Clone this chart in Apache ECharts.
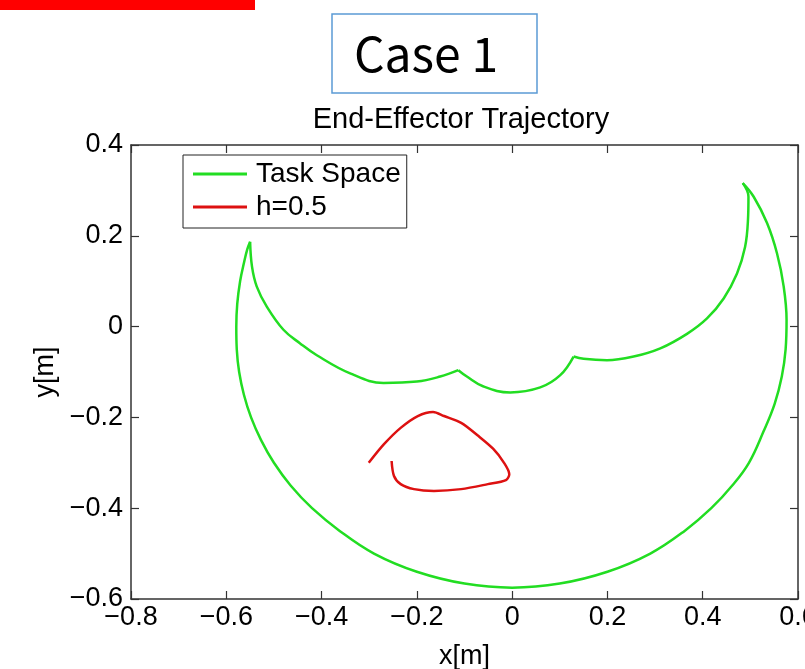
<!DOCTYPE html>
<html>
<head>
<meta charset="utf-8">
<script src="https://cdn.jsdelivr.net/npm/echarts@6/dist/echarts.min.js"></script>
<style>
  html, body { margin: 0; padding: 0; background: #fff; }
  #chart { width: 805px; height: 669px; }
</style>
</head>
<body>
<div id="chart"></div>
<script>
// 轴刻度 [min, max, interval]
var xTicks = [-0.8, 0.6, 0.2];
var yTicks = [-0.6, 0.4, 0.2];

// Task Space 边界, 分四段 (尖点处不平滑)
// 左尖点 -> 左小尖点
var arcAX = [-0.550, -0.546, -0.536, -0.515, -0.480, -0.445, -0.410, -0.340, -0.270, -0.200, -0.151, -0.113];
var arcAY = [0.187, 0.132, 0.088, 0.044, -0.007, -0.037, -0.063, -0.103, -0.124, -0.121, -0.110, -0.096];
// 左小尖点 -> 右小尖点
var arcBX = [-0.113, -0.095, -0.060, -0.004, 0.059, 0.101, 0.129];
var arcBY = [-0.096, -0.110, -0.132, -0.145, -0.134, -0.107, -0.066];
// 右小尖点 -> 右上尖点
var arcCX = [0.129, 0.150, 0.199, 0.255, 0.311, 0.367, 0.409, 0.444, 0.472, 0.489, 0.495, 0.496, 0.484];
var arcCY = [-0.066, -0.071, -0.074, -0.066, -0.048, -0.016, 0.018, 0.062, 0.117, 0.176, 0.235, 0.286, 0.316];
// 外弧: 右上尖点 -> 左尖点
var arcDX = [0.484, 0.507, 0.535, 0.556, 0.570, 0.576, 0.574, 0.566, 0.551, 0.528, 0.497, 0.462, 0.418, 0.362,
  0.290, 0.200, 0.100, 0.000, -0.100, -0.200, -0.290, -0.362, -0.420, -0.465, -0.500, -0.527, -0.548,
  -0.563, -0.573, -0.578, -0.579, -0.577, -0.571, -0.563, -0.556, -0.550];
var arcDY = [0.316, 0.286, 0.228, 0.161, 0.088, 0.015, -0.050, -0.110, -0.170, -0.230, -0.300, -0.350, -0.400, -0.450,
  -0.500, -0.540, -0.566, -0.575, -0.566, -0.540, -0.500, -0.450, -0.400, -0.350, -0.300, -0.250, -0.200,
  -0.150, -0.100, -0.050, 0.000, 0.050, 0.100, 0.140, 0.170, 0.187];

// h=0.5 轨迹
var hX = [-0.301, -0.269, -0.234, -0.198, -0.166, -0.143, -0.107, -0.072, -0.040, -0.017, -0.006,
  -0.013, -0.051, -0.107, -0.164, -0.206, -0.234, -0.248, -0.253];
var hY = [-0.300, -0.259, -0.223, -0.197, -0.188, -0.197, -0.212, -0.240, -0.269, -0.300, -0.325,
  -0.338, -0.347, -0.358, -0.362, -0.358, -0.347, -0.329, -0.296];

function pairs(xs, ys) {
  return xs.map(function (v, i) { return [v, ys[i]]; });
}

(function () {
  const myChart = echarts.init(document.getElementById("chart"));
  const font = "Liberation Sans";
  const green = "#22dd22";
  const red = "#dd1111";
  const fmt = function (v) { return String(+v.toFixed(1)).replace("-", "\u2212"); };
  const axisBase = {
    type: "value",
    axisLine: { show: true, onZero: false, lineStyle: { color: "#333", width: 1.5 } },
    axisTick: { show: true, inside: true, length: 8, lineStyle: { color: "#333", width: 1.2 } },
    splitLine: { show: false }
  };
  const greenArc = function (xs, ys) {
    return {
      name: "Task Space",
      type: "line",
      data: pairs(xs, ys),
      showSymbol: false,
      smooth: 0.4,
      color: green,
      lineStyle: { width: 2.5, color: green }
    };
  };
  const option = {
    backgroundColor: "#fff",
    animation: false,
    graphic: [
      { type: "rect", shape: { x: 0, y: 0, width: 255, height: 10 }, style: { fill: "#ff0000" } },
      { type: "rect", shape: { x: 332, y: 14, width: 205, height: 79 },
        style: { fill: "#fff", stroke: "#5b9bd5", lineWidth: 1.5 } },
      { type: "text", x: 426, y: 54,
        style: { text: "Case 1", fontFamily: "Noto Sans CJK JP", fontSize: 48, fill: "#000",
          textAlign: "center", textVerticalAlign: "middle" } },
      { type: "text", x: 461, y: 120,
        style: { text: "End-Effector Trajectory", fontFamily: font, fontSize: 29, fill: "#000",
          textAlign: "center", textVerticalAlign: "middle" } }
    ],
    legend: {
      orient: "vertical",
      left: 183,
      top: 155,
      backgroundColor: "#fff",
      borderColor: "#222",
      borderWidth: 1,
      padding: [5, 6, 7, 10],
      itemWidth: 54,
      itemHeight: 3,
      itemGap: 5,
      textStyle: { fontFamily: font, fontSize: 28, color: "#000", padding: [0, 0, 0, 4] },
      data: [
        { name: "Task Space", icon: "rect" },
        { name: "h=0.5", icon: "rect" }
      ]
    },
    grid: { left: 131, top: 145, width: 667, height: 454, outerBoundsMode: "none", containLabel: false },
    xAxis: [
      Object.assign({}, axisBase, {
        min: xTicks[0], max: xTicks[1], interval: xTicks[2],
        position: "bottom",
        name: "x[m]", nameLocation: "middle", nameGap: 44,
        nameTextStyle: { fontFamily: font, fontSize: 27, color: "#000" },
        axisLabel: { margin: 5, fontFamily: font, fontSize: 27, color: "#000", formatter: fmt }
      }),
      Object.assign({}, axisBase, {
        min: xTicks[0], max: xTicks[1], interval: xTicks[2],
        position: "top", axisLabel: { show: false }
      })
    ],
    yAxis: [
      Object.assign({}, axisBase, {
        min: yTicks[0], max: yTicks[1], interval: yTicks[2],
        position: "left",
        name: "y[m]", nameLocation: "middle", nameGap: 66,
        nameTextStyle: { fontFamily: font, fontSize: 27, color: "#000" },
        axisLabel: { margin: 8, fontFamily: font, fontSize: 27, color: "#000", formatter: fmt }
      }),
      Object.assign({}, axisBase, {
        min: yTicks[0], max: yTicks[1], interval: yTicks[2],
        position: "right", axisLabel: { show: false }
      })
    ],
    series: [
      greenArc(arcAX, arcAY),
      greenArc(arcBX, arcBY),
      greenArc(arcCX, arcCY),
      greenArc(arcDX, arcDY),
      {
        name: "h=0.5",
        type: "line",
        data: pairs(hX, hY),
        showSymbol: false,
        smooth: 0.3,
        color: red,
        lineStyle: { width: 2.5, color: red }
      }
    ]
  };
  myChart.setOption(option);
})();
</script>
</body>
</html>
